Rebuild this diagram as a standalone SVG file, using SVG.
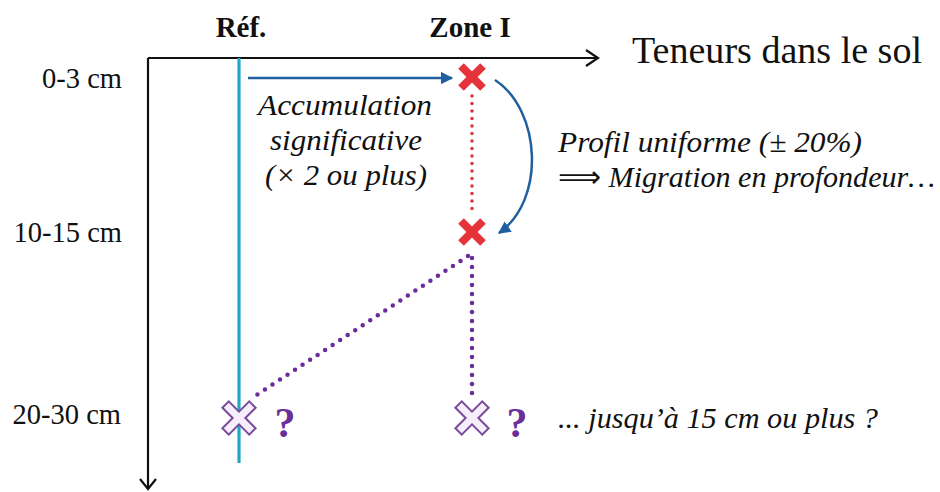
<svg xmlns="http://www.w3.org/2000/svg" width="940" height="492" viewBox="0 0 940 492">
  <style>
    text { font-family: "Liberation Serif", "Times New Roman", serif; fill: #111; }
    .hdr { font-size: 29px; font-weight: bold; text-anchor: middle; }
    .depth { font-size: 28.5px; text-anchor: end; }
    .it { font-family: "Liberation Serif", serif; font-style: italic; font-size: 30px; }
    .q { font-size: 42px; font-weight: bold; fill: #6b2d98; text-anchor: middle; }
    .axis { stroke: #111; stroke-width: 2.2; fill: none; }
    .blue { stroke: #1f5f9f; stroke-width: 2.5; fill: none; }
    .reddot { stroke: #d9343e; stroke-width: 3.5; stroke-linecap: round; stroke-dasharray: 0 7.5; fill: none; }
    .purdot { stroke: #6a2c9c; stroke-width: 4.5; stroke-linecap: round; stroke-dasharray: 0 9; fill: none; }
    .redx { stroke: #e5333b; stroke-width: 8; }
    .purx { fill: #f7eefb; stroke: #7a4a9a; stroke-width: 2; }
  </style>
  <defs>
    <marker id="ah" viewBox="0 0 10 10" refX="9" refY="5" markerWidth="5" markerHeight="5" orient="auto" markerUnits="strokeWidth">
      <path d="M0,0 L10,5 L0,10 z" fill="#1f5f9f"/>
    </marker>
    <polygon id="xshape" points="4.5,-19 4.5,-4.5 19,-4.5 19,4.5 4.5,4.5 4.5,19 -4.5,19 -4.5,4.5 -19,4.5 -19,-4.5 -4.5,-4.5 -4.5,-19" transform="rotate(45)"/>
  </defs>
  <rect width="940" height="492" fill="#fff"/>

  <g id="axes">
    <path class="axis" d="M148,58 H598"/>
    <path class="axis" d="M586,50 L598,58 L586,66"/>
    <path class="axis" d="M148,58 V489"/>
    <path class="axis" d="M140,479 L148,489 L156,479"/>
    <text x="632" y="63" font-size="37" textLength="290" lengthAdjust="spacingAndGlyphs">Teneurs dans le sol</text>
  </g>

  <g id="depth-labels">
    <text class="depth" x="122" y="88">0-3 cm</text>
    <text class="depth" x="122" y="242">10-15 cm</text>
    <text class="depth" x="121" y="424">20-30 cm</text>
  </g>

  <g id="ref">
    <text class="hdr" x="241" y="37">Réf.</text>
    <line x1="239" y1="58" x2="239" y2="463" stroke="#22a8c4" stroke-width="3.2"/>
  </g>

  <g id="zone">
    <text class="hdr" x="470" y="37">Zone I</text>
  </g>

  <g id="connectors">
    <line class="reddot" x1="472" y1="96" x2="472" y2="214"/>
    <line class="purdot" x1="468" y1="256" x2="252" y2="398"/>
    <line class="purdot" x1="472" y1="258" x2="472" y2="395"/>
    <line class="blue" x1="248" y1="78" x2="452" y2="78" marker-end="url(#ah)"/>
    <path class="blue" d="M495,80 C541,110 546,200 499,233" marker-end="url(#ah)"/>
  </g>

  <g id="x-0-3">
    <line class="redx" x1="461" y1="66" x2="483" y2="88"/>
    <line class="redx" x1="483" y1="66" x2="461" y2="88"/>
  </g>
  <g id="x-10-15">
    <line class="redx" x1="461" y1="221" x2="483" y2="243"/>
    <line class="redx" x1="483" y1="221" x2="461" y2="243"/>
  </g>
  <g id="x-ref-20-30">
    <use href="#xshape" class="purx" transform="translate(239,418)"/>
    <text class="q" x="285" y="437">?</text>
  </g>
  <g id="x-zone-20-30">
    <use href="#xshape" class="purx" transform="translate(472,418)"/>
    <text class="q" x="517" y="437">?</text>
  </g>

  <g id="label-accumulation">
    <text class="it" x="345" y="115" text-anchor="middle" textLength="174" lengthAdjust="spacingAndGlyphs">Accumulation</text>
    <text class="it" x="346" y="150" text-anchor="middle" textLength="152" lengthAdjust="spacingAndGlyphs">significative</text>
    <text class="it" x="346" y="185" text-anchor="middle" textLength="162" lengthAdjust="spacingAndGlyphs">(× 2 ou plus)</text>
  </g>

  <g id="label-profil">
    <text class="it" x="558" y="152" font-size="31" textLength="304" lengthAdjust="spacingAndGlyphs">Profil uniforme (± 20%)</text>
    <text class="it" x="558" y="187" font-size="31" textLength="377" lengthAdjust="spacingAndGlyphs"><tspan font-style="normal">⟹</tspan> Migration en profondeur…</text>
  </g>

  <g id="label-jusqua">
    <text class="it" x="558" y="428" font-size="28" textLength="320" lengthAdjust="spacingAndGlyphs">... jusqu’à 15 cm ou plus ?</text>
  </g>
</svg>
